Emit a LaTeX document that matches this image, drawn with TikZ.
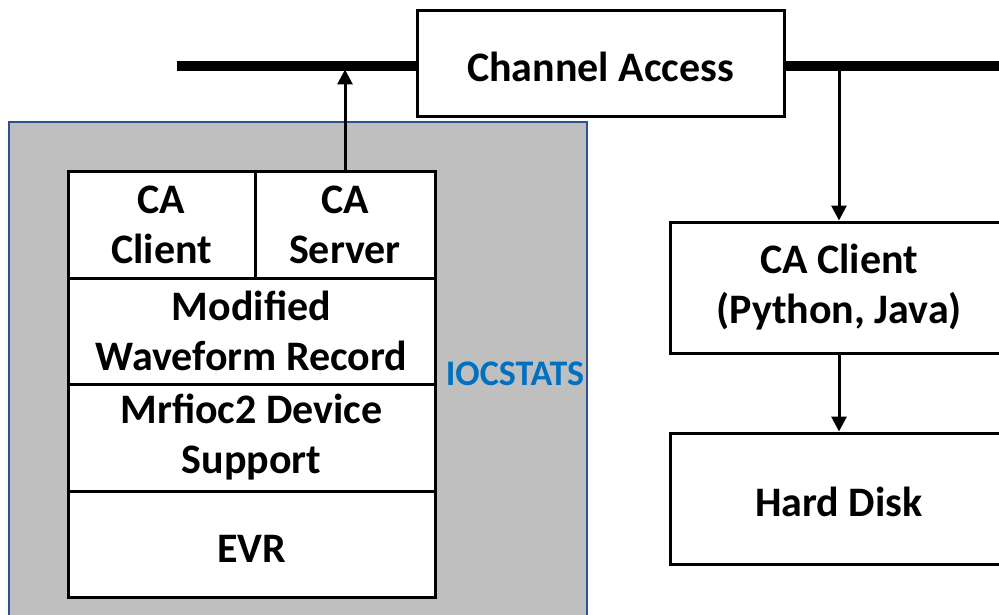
\documentclass[tikz,border=0pt]{standalone}
\usepackage{fontspec}
\setmainfont{Carlito}
\usetikzlibrary{arrows.meta}

\definecolor{iocgray}{RGB}{191,191,191}
\definecolor{iocframe}{RGB}{47,82,143}
\definecolor{iocstatsblue}{RGB}{0,112,192}

\tikzset{
    cell/.style={draw, line width=3pt, fill=white, inner sep=0pt, align=center,
        font=\fontsize{42}{50}\selectfont\bfseries,
        execute at begin node={\rule{0pt}{36pt}}},
    link/.style={line width=3pt, -{Triangle[length=15pt,width=15pt]}},
}

\begin{document}
\begin{tikzpicture}[x=1pt, y=-1pt]
    \useasboundingbox (0,0) rectangle (999,615);

    % IOC
    \draw[iocframe, line width=2pt, fill=iocgray] (9,122) rectangle (587,640);

    \node[cell, minimum width=187pt, minimum height=106pt] (caclient) at (161.5,225) {CA\\Client};
    \node[cell, minimum width=180pt, minimum height=106pt] (caserver) at (345,225) {CA\\Server};
    \node[cell, minimum width=367pt, minimum height=106pt] (waveform) at (251.5,331) {Modified\\Waveform Record};
    \node[cell, minimum width=367pt, minimum height=107pt] (mrfioc) at (251.5,437.5) {Mrfioc2 Device\\Support};
    \node[cell, minimum width=367pt, minimum height=106pt] (evr) at (251.5,544) {EVR};

    \node[text=iocstatsblue, font=\fontsize{36}{40}\selectfont\bfseries] (iocstats) at (515,374) {IOCSTATS};

    % network
    \coordinate (busleft) at (177,66);
    \coordinate (busright) at (999,66);
    \node[cell, minimum width=367pt, minimum height=106pt] (ca) at (600.5,64) {Channel Access};
    \draw[line width=10pt] (busleft) -- (ca.west |- busleft);
    \draw[line width=10pt] (ca.east |- busright) -- (busright);

    % archiver side
    \node[cell, minimum width=338pt, minimum height=131pt] (pyclient) at (839,287.5) {CA Client\\(Python, Java)};
    \node[cell, minimum width=338pt, minimum height=131pt] (disk) at (839,498.5) {Hard Disk};

    \draw[link] (caserver.north) -- ++(0,-101);
    \draw[link] (pyclient.north |- 0,71) -- (pyclient.north);
    \draw[link] (pyclient.south) -- (disk.north);
\end{tikzpicture}
\end{document}
